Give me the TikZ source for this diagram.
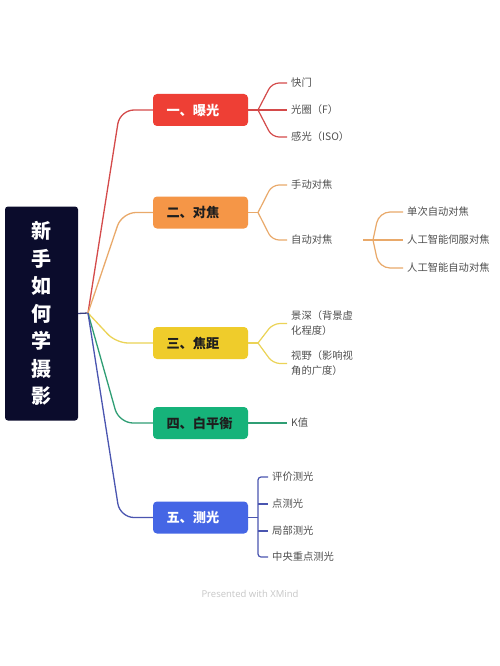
\documentclass[tikz,border=0pt]{standalone}
\usepackage{fontspec}
\setmainfont{Noto Sans CJK SC}
\newfontfamily\wmfont{Open Sans}
\definecolor{rootnavy}{HTML}{0B0C2C}
\definecolor{hubline}{HTML}{3C4080}
\definecolor{redbox}{HTML}{EE3F35}
\definecolor{redline}{HTML}{D44A4A}
\definecolor{orangebox}{HTML}{F59647}
\definecolor{orangeline}{HTML}{E9A96A}
\definecolor{yellowbox}{HTML}{EFCC2B}
\definecolor{yellowline}{HTML}{EBD356}
\definecolor{greenbox}{HTML}{16B37A}
\definecolor{greenline}{HTML}{2F9E74}
\definecolor{bluebox}{HTML}{4566E5}
\definecolor{blueline}{HTML}{4A55B0}
\definecolor{childtext}{HTML}{505050}
\definecolor{darktext}{HTML}{1E1E1E}
\begin{document}
\begin{tikzpicture}[x=1pt,y=-1pt,
  rootbox/.style={fill=rootnavy, rounded corners=3pt, minimum width=73pt, minimum height=214pt, inner sep=0pt,
    text=white, align=center, font=\bfseries\fontsize{20}{27.5}\selectfont},
  branchbox/.style={rounded corners=4pt, minimum height=32pt, text width=68pt, inner xsep=13.5pt, inner ysep=0pt,
    align=left, font=\bfseries\fontsize{13.2}{15}\selectfont},
  leaf/.style={anchor=west, inner xsep=4pt, inner ysep=1pt, text=childtext, align=left,
    font=\fontsize{10.3}{15}\selectfont},
  mainline/.style={line width=1.3pt, rounded corners=14pt},
  subline/.style={line width=1.2pt, rounded corners=7pt}
]
\useasboundingbox[fill=white] (0,0) rectangle (500,666);

% root
\node[rootbox] (root) at (41.5,313.5) {新\\手\\如\\何\\学\\摄\\影};
\coordinate (hub) at (88,313);
\draw[hubline, line width=1.3pt] (root.east) -- (hub);

% branch boxes
\node[branchbox, fill=redbox, text=white] (b1) at (200.5,110) {一、曝光};
\node[branchbox, fill=orangebox, text=darktext] (b2) at (200.5,212.5) {二、对焦};
\node[branchbox, fill=yellowbox, text=darktext] (b3) at (200.5,343) {三、焦距};
\node[branchbox, fill=greenbox, text=darktext] (b4) at (200.5,423) {四、白平衡};
\node[branchbox, fill=bluebox, text=white] (b5) at (200.5,517.5) {五、测光};

% main connectors
\draw[mainline, redline] (hub) -- (120,110) -- (b1.west);
\draw[mainline, orangeline] (hub) -- (122,212.5) -- (b2.west);
\draw[mainline, yellowline, rounded corners=12pt] (hub) -- (116,343) -- (b3.west);
\draw[mainline, greenline] (hub) -- (119,423) -- (b4.west);
\draw[mainline, blueline] (hub) -- (120,517.5) -- (b5.west);

% branch 1
\coordinate (h1) at (258,110);
\node[leaf] (c11) at (287,83) {快门};
\node[leaf] (c12) at (287,110) {光圈（F）};
\node[leaf] (c13) at (287,137) {感光（ISO）};
\draw[subline, redline] (b1.east) -- (h1);
\draw[subline, redline] (h1) -- (272,83) -- (c11.west);
\draw[subline, redline] (h1) -- (c12.west);
\draw[subline, redline] (h1) -- (272,137) -- (c13.west);

% branch 2
\coordinate (h2) at (258,212.5);
\node[leaf] (c21) at (287,185) {手动对焦};
\node[leaf] (c22) at (287,240) {自动对焦};
\draw[subline, orangeline] (b2.east) -- (h2);
\draw[subline, orangeline] (h2) -- (272,185) -- (c21.west);
\draw[subline, orangeline] (h2) -- (272,240) -- (c22.west);
\coordinate (s22) at (363,240);
\coordinate (h22) at (373,240);
\node[leaf] (c221) at (403,212) {单次自动对焦};
\node[leaf] (c222) at (403,240) {人工智能伺服对焦};
\node[leaf] (c223) at (403,268) {人工智能自动对焦};
\draw[subline, orangeline] (s22) -- (c222.west);
\draw[subline, orangeline, rounded corners=11pt] (h22) -- (379,212) -- (c221.west);
\draw[subline, orangeline, rounded corners=11pt] (h22) -- (379,268) -- (c223.west);

% branch 3
\coordinate (h3) at (258,343);
\node[leaf] (c31) at (287,323.5) {景深（背景虚\\化程度）};
\node[leaf] (c32) at (287,363.5) {视野（影响视\\角的广度）};
\draw[subline, yellowline] (b3.east) -- (h3);
\draw[subline, yellowline] (h3) -- (273,323.5) -- (c31.west);
\draw[subline, yellowline] (h3) -- (273,363.5) -- (c32.west);

% branch 4
\node[leaf] (c41) at (287,423) {K值};
\draw[subline, greenline] (b4.east) -- (c41.west);

% branch 5
\coordinate (h5) at (258,517.5);
\node[leaf] (c51) at (268,477) {评价测光};
\node[leaf] (c52) at (268,504) {点测光};
\node[leaf] (c53) at (268,531) {局部测光};
\node[leaf] (c54) at (268,557) {中央重点测光};
\draw[subline, blueline] (b5.east) -- (h5);
\draw[subline, blueline, rounded corners=3pt] (c51.west) -- (258,477) -- (258,557) -- (c54.west);
\draw[subline, blueline] (258,504) -- (c52.west);
\draw[subline, blueline] (258,531) -- (c53.west);

% watermark
\node[text=black!22, font=\wmfont\fontsize{9.5}{11}\selectfont] (wm) at (250,594) {Presented with XMind};
\end{tikzpicture}
\end{document}
